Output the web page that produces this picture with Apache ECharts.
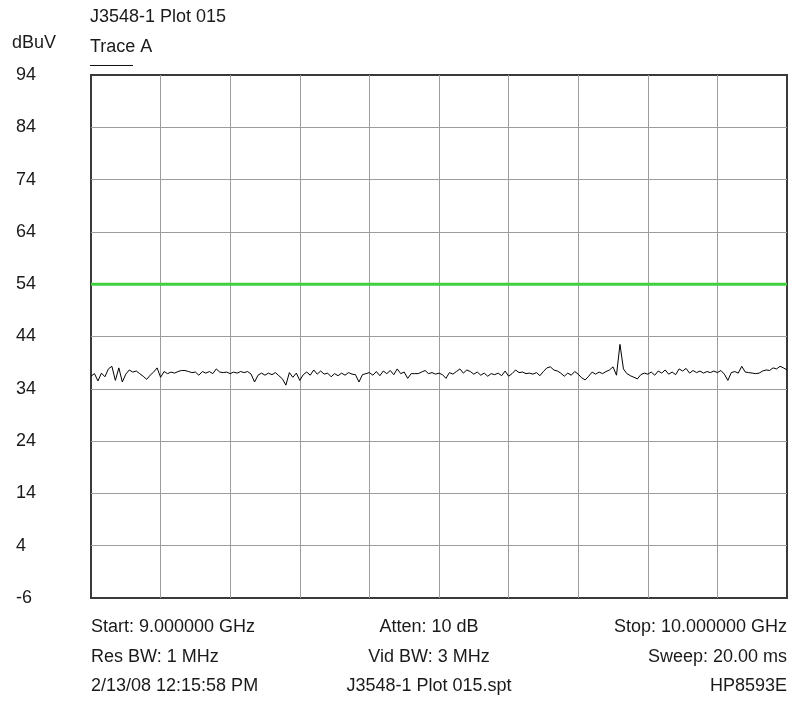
<!DOCTYPE html>
<html>
<head>
<meta charset="utf-8">
<script src="https://cdn.jsdelivr.net/npm/echarts@6/dist/echarts.min.js"></script>
<style>
  html, body { margin: 0; padding: 0; background: #ffffff; }
  #chart { width: 790px; height: 704px; }
</style>
</head>
<body>
<div id="chart"></div>
<script>
// Sweep settings (GHz)
const freqStart = 9.0;
const freqStop = 10.0;

// Trace A amplitude readings across the sweep (dBuV)
const traceA = [
  36.4, 36.9, 35.5, 37.0, 36.3, 37.8, 38.3, 35.6, 38.0, 35.3,
  36.8, 37.6, 37.2, 37.4, 36.9, 36.4, 35.8, 36.6, 37.2, 38.0,
  36.2, 37.3, 36.9, 37.2, 37.0, 37.3, 37.5, 37.5, 37.3, 37.1,
  37.2, 36.6, 37.3, 37.0, 37.3, 36.9, 37.8, 37.2, 37.1, 37.2,
  36.9, 37.2, 37.0, 37.3, 37.1, 37.3, 36.8, 35.3, 36.6, 37.0,
  36.6, 37.0, 36.7, 37.1, 36.5, 35.9, 34.7, 37.1, 36.2, 37.0,
  35.6, 36.7, 37.2, 36.6, 37.6, 36.8, 37.4, 36.8, 37.0, 36.3,
  36.9, 36.5, 37.0, 36.6, 37.1, 36.8, 36.7, 35.3, 36.7, 36.9,
  37.1, 36.6, 37.3, 36.5, 37.4, 36.9, 37.5, 36.7, 37.8, 36.9,
  37.2, 36.0, 36.9, 36.9, 36.9, 37.2, 37.5, 36.9, 37.1, 36.8,
  37.0, 36.7, 36.0, 37.1, 36.8, 37.3, 37.8, 37.0, 37.6, 37.3,
  36.8, 37.2, 36.6, 37.0, 36.4, 36.9, 36.7, 37.0, 36.5, 37.4,
  36.4, 36.9, 37.6, 37.1, 37.2, 36.9, 37.0, 36.8, 37.1, 36.5,
  37.3, 38.0, 38.2, 37.6, 37.4, 37.0, 36.4, 37.0, 36.6, 37.3,
  36.8, 36.1, 35.7, 36.4, 37.2, 36.8, 37.2, 36.9, 37.3, 37.6,
  38.2, 36.6, 42.5, 37.8, 36.9, 36.5, 36.2, 35.9, 36.7, 37.0,
  36.8, 37.2, 36.6, 37.4, 37.0, 37.6, 36.8, 37.2, 36.7, 37.8,
  37.4, 37.9, 37.0, 37.5, 37.1, 37.4, 37.0, 37.3, 37.1, 37.4,
  37.1, 37.5, 36.8, 35.6, 37.1, 37.3, 37.0, 38.3, 37.2, 37.1,
  37.0, 36.9, 37.0, 37.4, 37.6, 37.5, 38.0, 37.8, 38.3, 38.0,
  37.6
];

// Limit line level (dBuV) at both ends of the sweep
const limitLine = [54, 54];

// Vertical scale
const yMin = -6;
const yMax = 94;
const yStep = 10;

// Header and footer annotation text
const titleText = 'J3548-1 Plot 015';
const unitText = 'dBuV';
const traceName = 'Trace A';
const footerLeft = ['Start: 9.000000 GHz', 'Res BW: 1 MHz', '2/13/08 12:15:58 PM'];
const footerCenter = ['Atten: 10 dB', 'Vid BW: 3 MHz', 'J3548-1 Plot 015.spt'];
const footerRight = ['Stop: 10.000000 GHz', 'Sweep: 20.00 ms', 'HP8593E'];

const stepGHz = (freqStop - freqStart) / (traceA.length - 1);
const traceData = traceA.map((v, i) => [freqStart + i * stepGHz, v]);
const limitData = [[freqStart, limitLine[0]], [freqStop, limitLine[1]]];

const FONT = '"Liberation Sans", Arial, sans-serif';
const TXT = '#1a1a1a';
const FS = 18;

function textEl(x, y, text, align) {
  return {
    type: 'text', x: x, y: y,
    style: { text: text, font: FS + 'px ' + FONT, fill: TXT, textAlign: align, textVerticalAlign: 'middle' },
    silent: true
  };
}

const footerRows = [627, 657, 686];
const graphics = [
  textEl(90, 17, titleText, 'left'),
  textEl(12, 43, unitText, 'left'),
  textEl(90, 47, traceName, 'left'),
  { type: 'line', shape: { x1: 90, y1: 65.5, x2: 133, y2: 65.5 }, style: { stroke: '#111', lineWidth: 1 }, silent: true }
];
footerRows.forEach((y, r) => {
  graphics.push(textEl(91, y, footerLeft[r], 'left'));
  graphics.push(textEl(429, y, footerCenter[r], 'center'));
  graphics.push(textEl(787, y, footerRight[r], 'right'));
});

const chart = echarts.init(document.getElementById('chart'), null, { renderer: 'canvas' });
chart.setOption({
  animation: false,
  backgroundColor: '#ffffff',
  grid: {
    left: 91, right: 3, top: 75, bottom: 106,
    show: true, borderColor: '#3a3a3a', borderWidth: 2, backgroundColor: 'transparent'
  },
  xAxis: {
    type: 'value', min: freqStart, max: freqStop, interval: 0.1,
    axisLine: { show: false }, axisTick: { show: false }, axisLabel: { show: false },
    splitLine: { show: true, showMinLine: false, showMaxLine: false, lineStyle: { color: '#9c9c9c', width: 1 } }
  },
  yAxis: {
    type: 'value', min: yMin, max: yMax, interval: yStep,
    axisLine: { show: false }, axisTick: { show: false },
    axisLabel: { show: true, align: 'left', margin: 75, color: TXT, fontSize: FS, fontFamily: FONT },
    splitLine: { show: true, showMinLine: false, showMaxLine: false, lineStyle: { color: '#9c9c9c', width: 1 } }
  },
  graphic: graphics,
  series: [
    {
      name: 'Limit', type: 'line', data: limitData, symbol: 'none',
      lineStyle: { color: '#3fcf3f', width: 3 }, z: 3
    },
    {
      name: traceName, type: 'line', data: traceData, symbol: 'none',
      lineStyle: { color: '#000000', width: 1 }, z: 4
    }
  ]
});
</script>
</body>
</html>
